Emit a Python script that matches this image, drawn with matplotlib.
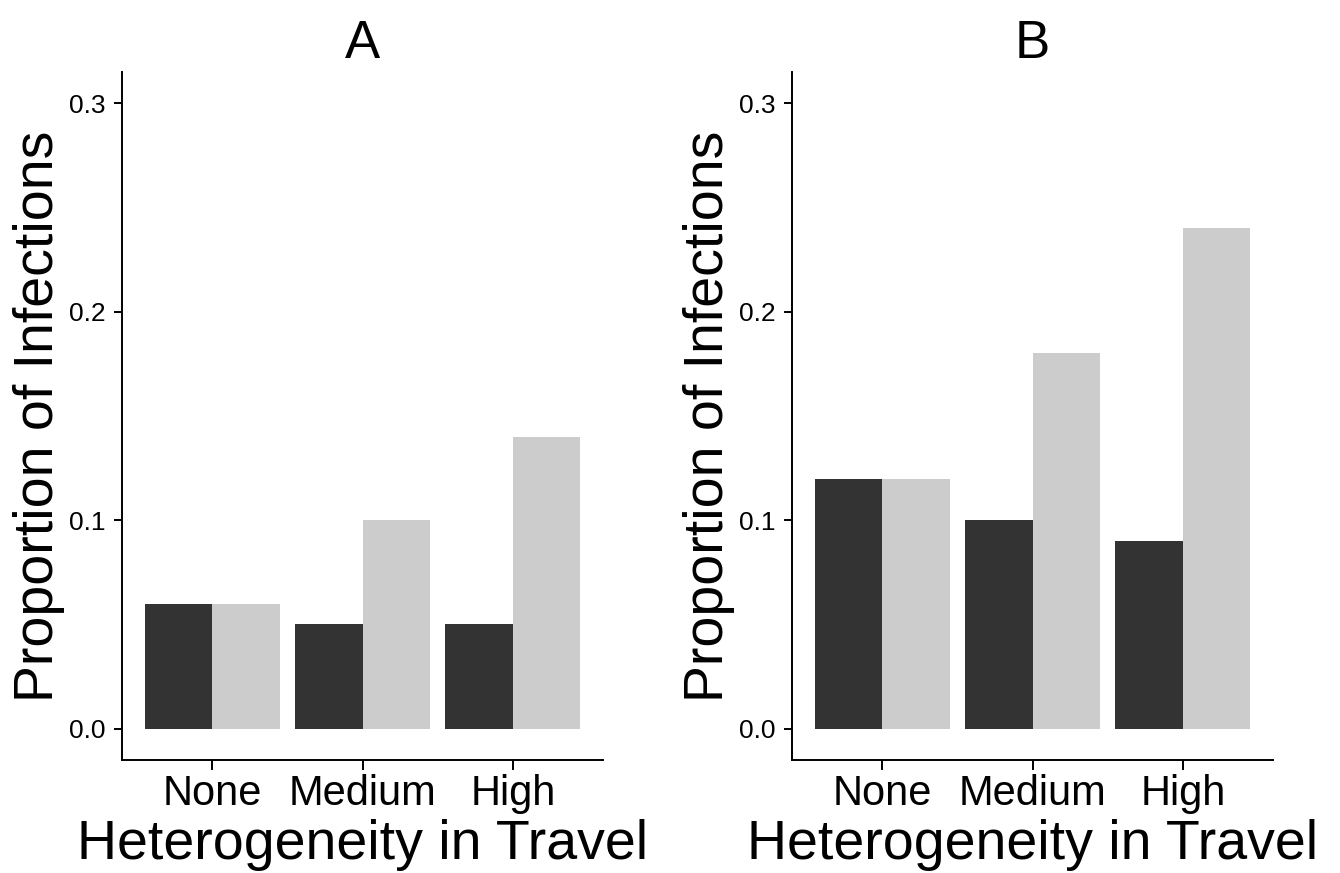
import matplotlib
matplotlib.use('Agg')
import matplotlib.pyplot as plt
import numpy as np

plt.rcParams['font.family'] = ['Liberation Sans', 'DejaVu Sans']

categories = ['None', 'Medium', 'High']
panel_titles = ['A', 'B']
dark_values = [[0.06, 0.05, 0.05], [0.12, 0.10, 0.09]]
light_values = [[0.06, 0.10, 0.14], [0.12, 0.18, 0.24]]
y_ticks = [0.0, 0.1, 0.2, 0.3]

dark_color = '#333333'
light_color = '#cccccc'

fig = plt.figure(figsize=(13.4, 8.73), dpi=100)
lefts = [122 / 1340, 792 / 1340]
width = 481 / 1340
bottom = 113 / 873
height = 688 / 873

x = np.arange(1, len(categories) + 1)
bw = 0.45

for i in range(2):
    ax = fig.add_axes([lefts[i], bottom, width, height])
    ax.bar(x - bw / 2, dark_values[i], width=bw, color=dark_color)
    ax.bar(x + bw / 2, light_values[i], width=bw, color=light_color)

    ax.set_xlim(0.4, 3.6)
    ax.set_ylim(-0.015, 0.315)
    ax.set_xticks(x)
    ax.set_xticklabels(categories)
    ax.set_yticks(y_ticks)
    ax.set_yticklabels(['%.1f' % v for v in y_ticks])

    for side in ['top', 'right']:
        ax.spines[side].set_visible(False)
    for side in ['left', 'bottom']:
        ax.spines[side].set_linewidth(1.4)
    ax.tick_params(axis='y', labelsize=19, length=6, width=1.4, pad=6)
    ax.tick_params(axis='x', labelsize=30, length=7, width=1.4, pad=3)

    ax.set_title(panel_titles[i], fontsize=38, pad=10)
    ax.set_xlabel('Heterogeneity in Travel', fontsize=40, labelpad=4)
    ax.set_ylabel('Proportion of Infections', fontsize=40, labelpad=3)

plt.savefig('out.png', dpi=100)
